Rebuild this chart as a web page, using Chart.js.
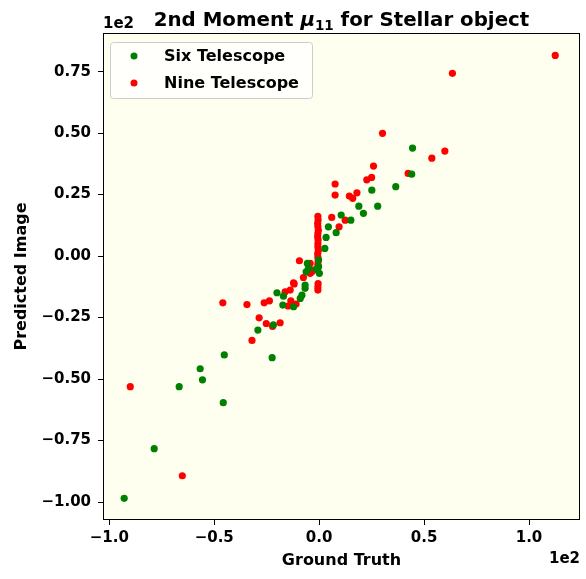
<!DOCTYPE html>
<html>
<head>
<meta charset="utf-8">
<script src="https://cdn.jsdelivr.net/npm/chart.js@4/dist/chart.umd.min.js"></script>
<style>
  html, body { margin: 0; padding: 0; background: #ffffff; }
  #c { display: block; }
</style>
</head>
<body>
<canvas id="c" width="586" height="579"></canvas>
<script>
// ---- Data (values in real units; axes show them scaled by 1e2) ----
const sixX = [-92.9, -78.6, -66.7, -56.7, -55.6, -45.2, -45.7, -22.4, -29.2, -21.8,
  -20.1, -17.0, -17.3, -12.2, -9.0, -8.2, -6.7, -6.7, -6.2, -5.1, -5.6, -1.4, -0.3, 0.1, -0.3,
  2.7, 3.3, 4.4, 8.1, 10.5, 15.1, 21.1, 18.9, 27.9, 25.1, 36.5, 44.1, 44.5];
const sixY = [-98.5, -78.3, -53.1, -45.8, -50.3, -40.2, -59.6, -41.3, -30.1, -28.0,
  -14.9, -16.3, -19.9, -20.6, -17.2, -15.9, -13.1, -11.8, -6.4, -5.0, -3.0, -5.4, -4.3, -7.0, -1.6,
  3.1, 7.6, 11.9, 9.5, 16.7, 14.6, 17.4, 20.3, 20.3, 26.8, 28.2, 33.3, 43.9];

const nineX = [112.5, 63.5, 30.2, 59.9, 53.7, 42.4, 25.9, 25.0, 22.7, 7.6, 7.6, 14.4, 16.0, 18.0,
  6.0, 12.4, 9.5,
  -0.6, -0.5, -0.7, -0.6, -0.4, -0.6, -0.7, -0.5, -0.6, -0.6, -0.4, -0.7, -0.6, -0.5, -0.6, -0.7,
  -0.5, -0.6, -0.6,
  -9.4, -4.3, -2.7, -4.3, -3.5, -7.5, -12.2, -11.9, -13.8, -16.2, -14.8, -11.0, -13.5,
  -45.9, -34.4, -26.2, -23.7, -28.6, -25.2, -22.2, -18.6, -32.0, -90.0, -65.2];
const nineY = [81.6, 74.3, 49.9, 42.7, 39.8, 33.6, 36.6, 32.0, 31.0, 29.3, 24.8, 24.4, 23.5, 25.7,
  15.7, 14.6, 11.9,
  16.2, 14.7, 13.3, 12.0, 10.5, 9.1, 7.8, 6.5, 5.0, 3.7, 2.3, 0.9, -0.5, -1.9, -3.3, -4.7,
  -11.2, -12.6, -13.8,
  -1.9, -3.0, -5.7, -7.0, -6.4, -8.7, -10.9, -11.3, -13.8, -14.5, -20.3, -19.5, -18.2,
  -19.0, -19.7, -19.0, -18.2, -25.1, -27.4, -28.6, -27.1, -34.3, -53.1, -89.3];

const xTicks = [-100, -50, 0, 50, 100];
const yTicks = [-100, -75, -50, -25, 0, 25, 50, 75];
const seriesNames = ['Six Telescope', 'Nine Telescope'];
const seriesColors = ['#008000', '#ff0000'];

const toPts = (xs, ys) => xs.map((x, i) => ({ x: x, y: ys[i] }));
const fmt = (v, d) => (v / 100).toFixed(d).replace('-', '\u2212');

const FONT = "'DejaVu Sans', sans-serif";

const framePlugin = {
  id: 'frame',
  beforeDatasetsDraw(chart) {
    const { ctx, chartArea: a } = chart;
    ctx.save();
    ctx.fillStyle = '#fffff0';
    ctx.fillRect(a.left, a.top, a.right - a.left, a.bottom - a.top);
    ctx.restore();
  },
  afterDraw(chart) {
    const { ctx, chartArea: a } = chart;
    ctx.save();
    // frame
    ctx.strokeStyle = '#000';
    ctx.lineWidth = 1;
    ctx.strokeRect(Math.round(a.left) + 0.5, Math.round(a.top) + 0.5,
      Math.round(a.right - a.left) - 1, Math.round(a.bottom - a.top) - 1);

    // legend
    const lx = 110, ly = 42, lw = 202, lh = 56;
    ctx.fillStyle = 'rgba(255,255,255,0.8)';
    ctx.strokeStyle = '#cccccc';
    ctx.beginPath();
    ctx.roundRect(lx + 0.5, ly + 0.5, lw, lh, 3);
    ctx.fill();
    ctx.stroke();
    ctx.font = "bold 16px " + FONT;
    ctx.textBaseline = 'middle';
    ctx.textAlign = 'left';
    const rows = [56, 83];
    seriesNames.forEach((n, i) => {
      ctx.fillStyle = seriesColors[i];
      ctx.beginPath();
      ctx.arc(134, rows[i], 3.5, 0, Math.PI * 2);
      ctx.fill();
      ctx.fillStyle = '#000';
      ctx.fillText(n, 164, rows[i] + 1);
    });

    // offset labels
    ctx.font = "bold 15px " + FONT;
    ctx.textBaseline = 'alphabetic';
    ctx.fillStyle = '#000';
    ctx.textAlign = 'left';
    ctx.fillText('1e2', 103, 28);
    ctx.textAlign = 'right';
    ctx.fillText('1e2', 580, 563);

    // title with math part
    const parts = [
      { t: '2nd Moment ', f: "bold 19.8px " + FONT, dy: 0 },
      { t: '\u03bc', f: "italic bold 19.8px " + FONT, dy: 0 },
      { t: '11', f: "bold 13.5px " + FONT, dy: 4 },
      { t: ' for Stellar object', f: "bold 19.8px " + FONT, dy: 0 }
    ];
    let total = 0;
    parts.forEach(p => { ctx.font = p.f; p.w = ctx.measureText(p.t).width; total += p.w; });
    let x = (a.left + a.right) / 2 - total / 2;
    ctx.textAlign = 'left';
    parts.forEach(p => {
      ctx.font = p.f;
      ctx.fillText(p.t, x, 26 + p.dy);
      x += p.w;
    });
    ctx.restore();
  }
};

new Chart(document.getElementById('c'), {
  type: 'scatter',
  data: {
    datasets: [
      { label: seriesNames[0], data: toPts(sixX, sixY), backgroundColor: seriesColors[0],
        borderColor: seriesColors[0], pointRadius: 3.6, pointBorderWidth: 0 },
      { label: seriesNames[1], data: toPts(nineX, nineY), backgroundColor: seriesColors[1],
        borderColor: seriesColors[1], pointRadius: 3.6, pointBorderWidth: 0 }
    ]
  },
  options: {
    responsive: false,
    animation: false,
    devicePixelRatio: 1,
    layout: { padding: { top: 33, right: 6, bottom: 0, left: 0 } },
    plugins: { legend: { display: false }, title: { display: false }, tooltip: { enabled: false } },
    scales: {
      x: {
        type: 'linear', min: -103, max: 124.3,
        afterFit: s => { s.height = 59; },
        afterBuildTicks: s => { s.ticks = xTicks.map(v => ({ value: v })); },
        grid: { drawOnChartArea: false, drawTicks: true, tickLength: 5, color: '#000' },
        border: { display: false },
        ticks: { color: '#000', padding: 4, maxRotation: 0, autoSkip: false,
          font: { family: FONT, size: 15, weight: 'bold' }, callback: v => fmt(v, 1) },
        title: { display: true, text: 'Ground Truth', color: '#000',
          font: { family: FONT, size: 16, weight: 'bold' }, padding: { top: 0, bottom: 9 } }
      },
      y: {
        type: 'linear', min: -107.3, max: 90.7,
        afterFit: s => { s.width = 103; },
        afterBuildTicks: s => { s.ticks = yTicks.map(v => ({ value: v })); },
        grid: { drawOnChartArea: false, drawTicks: true, tickLength: 5, color: '#000' },
        border: { display: false },
        ticks: { color: '#000', padding: 7, autoSkip: false,
          font: { family: FONT, size: 15, weight: 'bold' }, callback: v => fmt(v, 2) },
        title: { display: true, text: 'Predicted Image', color: '#000',
          font: { family: FONT, size: 16, weight: 'bold' }, padding: { top: 12, bottom: 0 } }
      }
    }
  },
  plugins: [framePlugin]
});
</script>
</body>
</html>
